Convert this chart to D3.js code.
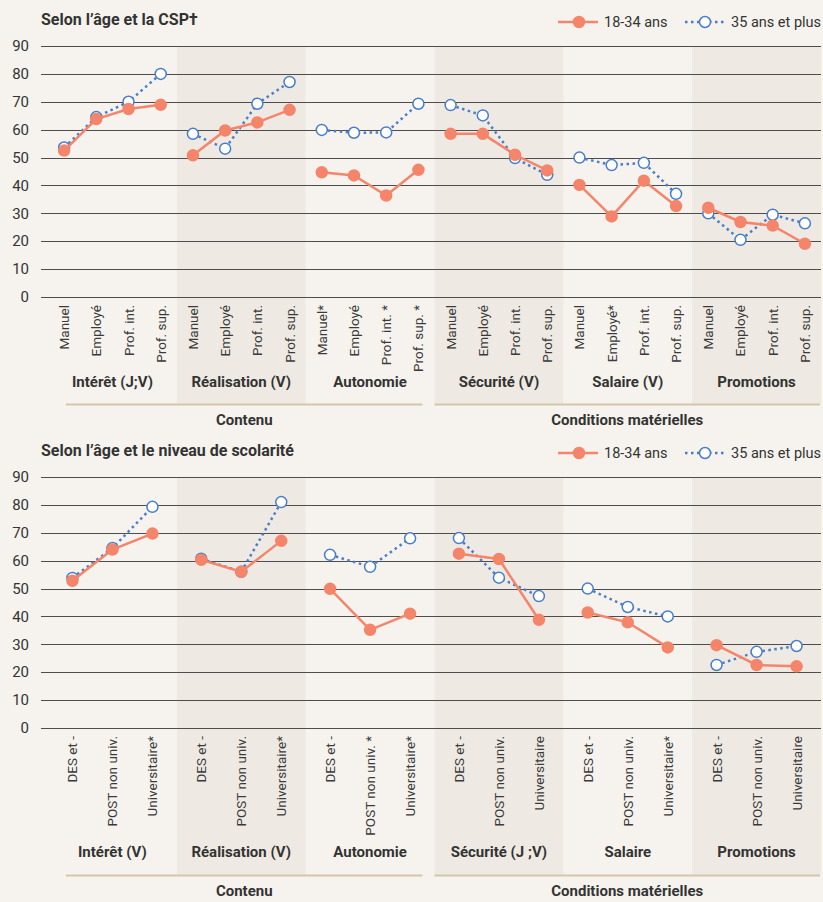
<!DOCTYPE html>
<html>
<head>
  <meta charset="UTF-8">
	<style>
		body { margin: 0; background: #f6f3ee; }
		svg { display: block; }
		text { font-family: 'Roboto', sans-serif; fill: #333; }
		.title { font-size: 16px; font-weight: bold; }
		.tick-label { font-size: 15px; text-anchor: end; }
		.cat-label { font-size: 13.5px; text-anchor: end; fill: #3a3a3a; }
		.group-label { font-size: 15px; font-weight: bold; text-anchor: middle; }
		.legend-label { font-size: 14.5px; }
		.grid { stroke: #4d4d4d; stroke-width: 1; shape-rendering: crispEdges; }
	</style>
</head>
<body>
	<script src="https://d3js.org/d3.v7.min.js"></script>
	<svg id="chart" width="823" height="902"></svg>
	<script>
		// data
		let yTicks = [0, 10, 20, 30, 40, 50, 60, 70, 80, 90];
		let superGroups = ["Contenu", "Conditions matérielles"];
		let seriesNames = ["18-34 ans", "35 ans et plus"];

		let groups1 = ["Intérêt (J;V)", "Réalisation (V)", "Autonomie", "Sécurité (V)", "Salaire (V)", "Promotions"];
		let cats1 = [
			["Manuel", "Employé", "Prof. int.", "Prof. sup."],
			["Manuel", "Employé", "Prof. int.", "Prof. sup."],
			["Manuel*", "Employé", "Prof. int. *", "Prof. sup. *"],
			["Manuel", "Employé", "Prof. int.", "Prof. sup."],
			["Manuel", "Employé*", "Prof. int.", "Prof. sup."],
			["Manuel", "Employé", "Prof. int.", "Prof. sup."]
		];
		let young1 = [52.5, 63.8, 67.4, 68.9, 50.8, 59.7, 62.6, 67.1, 44.7, 43.6, 36.4, 45.6,
			58.5, 58.5, 51, 45.4, 40.2, 28.9, 41.7, 32.6, 32, 26.9, 25.6, 19.1];
		let old1 = [53.6, 64.5, 70, 80, 58.5, 53.2, 69.3, 77.1, 59.9, 58.9, 59, 69.3,
			68.8, 65.1, 49.8, 43.8, 50, 47.3, 48.1, 37, 30, 20.5, 29.5, 26.4];

		let groups2 = ["Intérêt (V)", "Réalisation (V)", "Autonomie", "Sécurité (J ;V)", "Salaire", "Promotions"];
		let cats2 = [
			["DES et -", "POST non univ.", "Universitaire*"],
			["DES et -", "POST non univ.", "Universitaire*"],
			["DES et -", "POST non univ. *", "Universitaire*"],
			["DES et -", "POST non univ.", "Universitaire"],
			["DES et -", "POST non univ.", "Universitaire*"],
			["DES et -", "POST non univ.", "Universitaire"]
		];
		let young2 = [52.8, 64, 69.7, 60.3, 56, 67.1, 49.9, 35.2, 41, 62.5, 60.6, 38.8, 41.4, 37.9, 28.9, 29.7, 22.6, 22.1];
		let old2 = [53.8, 64.5, 79.3, 60.7, 56, 81, 62.1, 57.8, 68, 68.1, 53.9, 47.3, 50, 43.4, 40, 22.6, 27.3, 29.4];

		let orange = "#f4856a", blue = "#4a7dc8", shade = "#eeeae3", tan = "#d6c6a9";

		let svg = d3.select("#chart");

		// top = y of the 90 gridline, labelY = baseline of group names, bandEnd = bottom of shading / tan rule
		function drawChart(top, title, groups, cats, young, old, padding, labelY, bandEnd) {
			let g = svg.append("g").attr("transform", "translate(0," + top + ")");
			let y = d3.scaleLinear().domain([0, 90]).range([251, 0]);
			let xg = d3.scaleBand().domain(groups).range([48, 821]);
			let n = cats[0].length;
			let xi = d3.scalePoint().domain(d3.range(n)).range([0, xg.bandwidth()]).padding(padding);
			let xpos = (gi, i) => xg(groups[gi]) + xi(i);

			// shaded bands for every second group
			g.selectAll(".band")
				.data(groups.filter((d, i) => i % 2 == 1))
				.enter().append("rect")
					.attr("x", d => xg(d))
					.attr("y", 0)
					.attr("width", xg.bandwidth())
					.attr("height", bandEnd)
					.attr("fill", shade);

			// gridlines + y labels
			g.selectAll(".grid")
				.data(yTicks)
				.enter().append("line")
					.attr("class", "grid")
					.attr("x1", 41).attr("x2", 821)
					.attr("y1", d => Math.round(y(d)) + 0.5)
					.attr("y2", d => Math.round(y(d)) + 0.5);
			g.selectAll(".tick-label")
				.data(yTicks)
				.enter().append("text")
					.attr("class", "tick-label")
					.attr("x", 29)
					.attr("y", d => y(d))
					.attr("dy", "0.35em")
					.text(d => d);

			// category labels, rotated
			groups.forEach((grp, gi) => {
				cats[gi].forEach((c, i) => {
					g.append("text")
						.attr("class", "cat-label")
						.attr("transform", "translate(" + (xpos(gi, i) + 5) + "," + (y(0) + 8) + ") rotate(-90)")
						.text(c);
				});
				g.append("text")
					.attr("class", "group-label")
					.attr("x", xg(grp) + xg.bandwidth() / 2)
					.attr("y", labelY)
					.text(grp);
			});

			// super group lines and labels
			let mid = xg(groups[3]);
			let spans = [[66, mid - 12], [mid, 820]];
			spans.forEach((s, k) => {
				g.append("line")
					.attr("x1", s[0]).attr("x2", s[1])
					.attr("y1", bandEnd + 0.5).attr("y2", bandEnd + 0.5)
					.attr("stroke", tan)
					.attr("stroke-width", 2);
				g.append("text")
					.attr("class", "group-label")
					.attr("x", (s[0] + s[1]) / 2)
					.attr("y", bandEnd + 21)
					.text(superGroups[k]);
			});

			// lines, one piece per group
			let line = d3.line().x(d => d[0]).y(d => y(d[1]));
			let series = [
				{ values: old, color: blue, dash: "2.5,3.5", fill: "#fff" },
				{ values: young, color: orange, dash: null, fill: orange }
			];
			series.forEach(s => {
				groups.forEach((grp, gi) => {
					let pts = d3.range(n).map(i => [xpos(gi, i), s.values[gi * n + i]]);
					g.append("path")
						.attr("d", line(pts))
						.attr("fill", "none")
						.attr("stroke", s.color)
						.attr("stroke-width", 2.5)
						.attr("stroke-dasharray", s.dash);
				});
				g.selectAll(null)
					.data(s.values)
					.enter().append("circle")
						.attr("cx", (d, i) => xpos(Math.floor(i / n), i % n))
						.attr("cy", d => y(d))
						.attr("r", 5.5)
						.attr("fill", s.fill)
						.attr("stroke", s.color)
						.attr("stroke-width", 1.5);
			});

			// title
			g.append("text")
				.attr("class", "title")
				.attr("x", 41)
				.attr("y", -21)
				.text(title);

			// legend
			let lg = g.append("g").attr("transform", "translate(0,-24)");
			lg.append("line").attr("x1", 558).attr("x2", 598).attr("stroke", orange).attr("stroke-width", 2.5);
			lg.append("circle").attr("cx", 579).attr("r", 5.5).attr("fill", orange).attr("stroke", orange).attr("stroke-width", 1.5);
			lg.append("text").attr("class", "legend-label").attr("x", 604).attr("dy", "0.35em").text(seriesNames[0]);
			lg.append("line").attr("x1", 685).attr("x2", 725).attr("stroke", blue).attr("stroke-width", 2.5).attr("stroke-dasharray", "2.5,3.5");
			lg.append("circle").attr("cx", 705).attr("r", 5.5).attr("fill", "#fff").attr("stroke", blue).attr("stroke-width", 1.5);
			lg.append("text").attr("class", "legend-label").attr("x", 731).attr("dy", "0.35em").text(seriesNames[1]);
		}

		drawChart(46, "Selon l\u2019âge et la CSP\u2020", groups1, cats1, young1, old1, 0.5, 341, 358);
		drawChart(477, "Selon l\u2019âge et le niveau de scolarité", groups2, cats2, young2, old2, 0.61, 380, 398);
	</script>
</body>
</html>
